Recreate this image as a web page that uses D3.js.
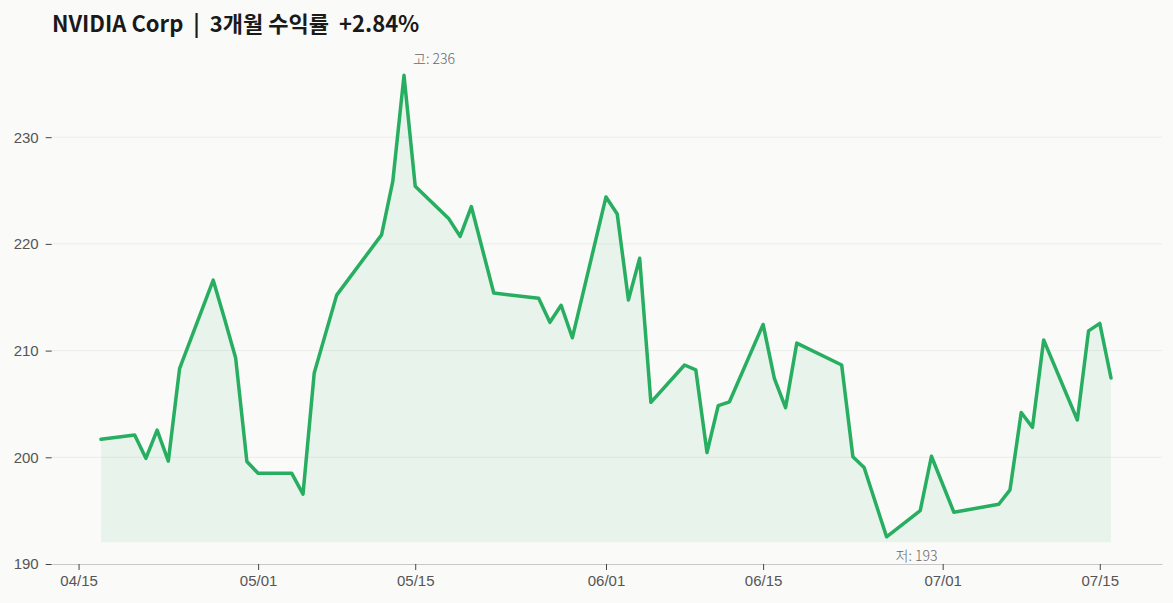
<!DOCTYPE html>
<html>
<head>
<meta charset="utf-8">
<script src="https://cdn.jsdelivr.net/npm/d3@7"></script>
<style>
  body { margin: 0; background: #fafaf9; }
  svg { display: block; font-family: "Noto Sans CJK KR", "Noto Sans", sans-serif; }
</style>
</head>
<body>
<svg id="chart"></svg>
<script>
// Trading days (2026) and close prices
const dates = [
  "2026-04-17", "2026-04-20", "2026-04-21", "2026-04-22", "2026-04-23", "2026-04-24",
  "2026-04-27", "2026-04-28", "2026-04-29", "2026-04-30", "2026-05-01",
  "2026-05-04", "2026-05-05", "2026-05-06", "2026-05-08",
  "2026-05-12", "2026-05-13", "2026-05-14", "2026-05-15",
  "2026-05-18", "2026-05-19", "2026-05-20", "2026-05-22",
  "2026-05-26", "2026-05-27", "2026-05-28", "2026-05-29",
  "2026-06-01", "2026-06-02", "2026-06-03", "2026-06-04", "2026-06-05",
  "2026-06-08", "2026-06-09", "2026-06-10", "2026-06-11", "2026-06-12",
  "2026-06-15", "2026-06-16", "2026-06-17", "2026-06-18",
  "2026-06-22", "2026-06-23", "2026-06-24", "2026-06-26",
  "2026-06-29", "2026-06-30", "2026-07-02",
  "2026-07-06", "2026-07-07", "2026-07-08", "2026-07-09", "2026-07-10",
  "2026-07-13", "2026-07-14", "2026-07-15", "2026-07-16"
];
const prices = [
  201.7, 202.1, 199.9, 202.55, 199.65, 208.3,
  216.6, 213.0, 209.3, 199.6, 198.5,
  198.5, 196.55, 207.9, 215.2,
  220.85, 225.85, 235.8, 225.4,
  222.35, 220.7, 223.5, 215.4,
  214.9, 212.65, 214.25, 211.2,
  224.4, 222.8, 214.75, 218.65, 205.15,
  208.65, 208.2, 200.45, 204.85, 205.2,
  212.45, 207.4, 204.65, 210.7,
  208.65, 200.05, 199.05, 192.55,
  195.0, 200.1, 194.85,
  195.6, 196.95, 204.2, 202.8, 211.0,
  203.5, 211.85, 212.55, 207.43
];
const ticker = "NVIDIA Corp";
const yTicks = [190, 200, 210, 220, 230];
const xTickDates = ["2026-04-15", "2026-05-01", "2026-05-15", "2026-06-01", "2026-06-15", "2026-07-01", "2026-07-15"];

const W = 1173, H = 603;
const plotL = 51.7, plotR = 1162, plotT = 40, plotB = 564;
const green = "#27ae60";

const parse = d3.timeParse("%Y-%m-%d");
const data = dates.map((d, i) => ({ date: parse(d), v: prices[i] }));

const svg = d3.select("#chart").attr("width", W).attr("height", H);

// x: first/last trading day pinned, then widen to the plot edges
const x = d3.scaleTime()
  .domain([data[0].date, data[data.length - 1].date])
  .range([101, 1111]);
x.domain([x.invert(plotL), x.invert(plotR)]).range([plotL, plotR]);

const y = d3.scaleLinear()
  .domain([190, 190 + (plotB - plotT) / 10.67])
  .range([plotB, plotT]);

// grid
svg.append("g")
  .selectAll("line")
  .data(yTicks.slice(1))
  .join("line")
  .attr("x1", plotL).attr("x2", plotR)
  .attr("y1", d => y(d)).attr("y2", d => y(d))
  .attr("stroke", "#ececec").attr("stroke-width", 1);

// y axis (ticks only)
const yAxis = svg.append("g")
  .attr("transform", `translate(${plotL},0)`)
  .call(d3.axisLeft(y).tickValues(yTicks).tickSize(6).tickPadding(7));
yAxis.select(".domain").remove();
yAxis.selectAll(".tick line").attr("stroke", "#444");
yAxis.selectAll(".tick text").attr("fill", "#555")
  .style("font-size", "15px").style("font-weight", 300);

// x axis
const xAxis = svg.append("g")
  .attr("transform", `translate(0,${plotB})`)
  .call(d3.axisBottom(x)
    .tickValues(xTickDates.map(parse))
    .tickFormat(d3.timeFormat("%m/%d"))
    .tickSize(6).tickPadding(5)
    .tickSizeOuter(0));
xAxis.select(".domain").attr("stroke", "#c8c8c8");
xAxis.selectAll(".tick line").attr("stroke", "#444");
xAxis.selectAll(".tick text").attr("fill", "#555")
  .style("font-size", "15px").style("font-weight", 300);

// area + line
const base = d3.min(prices) - 0.5;
svg.append("path")
  .datum(data)
  .attr("fill", green)
  .attr("fill-opacity", 0.09)
  .attr("d", d3.area().x(d => x(d.date)).y0(y(base)).y1(d => y(d.v)));

svg.append("path")
  .datum(data)
  .attr("fill", "none")
  .attr("stroke", green)
  .attr("stroke-width", 3.5)
  .attr("stroke-linejoin", "round")
  .attr("stroke-linecap", "round")
  .attr("d", d3.line().x(d => x(d.date)).y(d => y(d.v)));

// high / low labels
const hi = data[d3.maxIndex(prices)];
const lo = data[d3.minIndex(prices)];
svg.append("text")
  .attr("x", x(hi.date) + 9).attr("y", y(hi.v) - 11)
  .attr("fill", "#666").style("font-size", "14px").style("font-weight", 300)
  .text(`고: ${Math.round(hi.v)}`);
svg.append("text")
  .attr("x", x(lo.date) + 9).attr("y", y(lo.v) + 24)
  .attr("fill", "#666").style("font-size", "14px").style("font-weight", 300)
  .text(`저: ${Math.round(lo.v)}`);

// title
const ret = (prices[prices.length - 1] / prices[0] - 1) * 100;
svg.append("text")
  .attr("x", 52).attr("y", 32)
  .attr("fill", "#1a1a1a")
  .style("font-size", "22px").style("font-weight", "bold")
  .attr("xml:space", "preserve")
  .text(`${ticker}  |  3개월 수익률  ${ret >= 0 ? "+" : ""}${ret.toFixed(2)}%`);
</script>
</body>
</html>
